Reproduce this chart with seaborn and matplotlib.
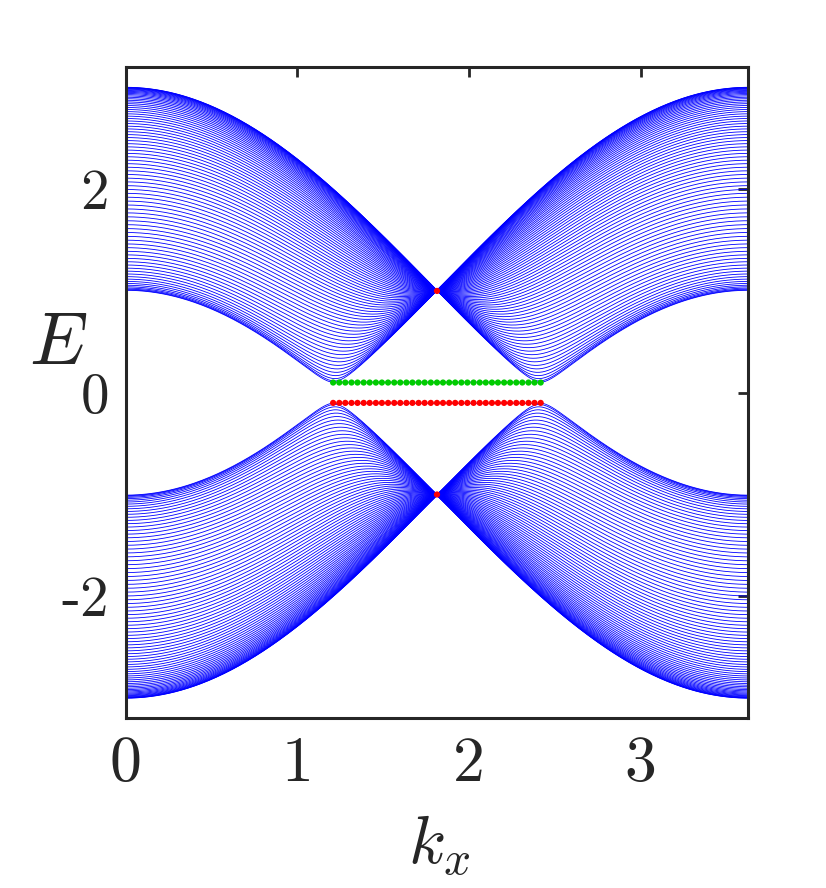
import numpy as np
import pandas as pd
import matplotlib
matplotlib.use("Agg")
import matplotlib.pyplot as plt
import seaborn as sns

# ---- parameters / values ----
hopping = 1.0          # nearest-neighbour hopping
mass = 0.1             # staggered sublattice potential (edge states sit at +-0.1)
n_chains = 80          # ribbon width (estimated from line density)
kx_max = 3.6276        # right end of the kx axis (2*pi/sqrt(3))
n_k = 400

x_ticks = [0, 1, 2, 3]
x_tick_labels = ["0", "1", "2", "3"]
y_ticks = [-2, 0, 2]
y_tick_labels = ["-2", "0", "2"]

edge_kx = [1.209, 1.245, 1.280, 1.316, 1.351, 1.387, 1.422, 1.458, 1.493,
           1.529, 1.565, 1.600, 1.636, 1.671, 1.707, 1.742, 1.778, 1.814,
           1.849, 1.885, 1.920, 1.956, 1.991, 2.027, 2.063, 2.098, 2.134,
           2.169, 2.205, 2.240, 2.276, 2.311, 2.347, 2.382, 2.418]
edge_E_upper = [0.1] * len(edge_kx)     # green dots
edge_E_lower = [-0.1] * len(edge_kx)    # red dots
touch_kx = [1.814, 1.814]
touch_E = [1.0, -1.0]                   # red dots where bands touch

# ---- zigzag ribbon tight-binding spectrum ----
kx = np.linspace(0, kx_max, n_k)
bands = np.empty((n_k, 2 * n_chains))
for i, k in enumerate(kx):
    g = 2 * hopping * np.cos(np.sqrt(3) * k / 2)
    H = np.zeros((2 * n_chains, 2 * n_chains))
    for j in range(n_chains):
        a, b = 2 * j, 2 * j + 1
        H[a, a] = mass
        H[b, b] = -mass
        H[a, b] = H[b, a] = g
        if j < n_chains - 1:
            H[b, a + 2] = H[a + 2, b] = hopping
    bands[i] = np.linalg.eigvalsh(H)

# hide the flat edge-state parts (drawn as dots instead)
for bidx in (n_chains - 1, n_chains):
    col = bands[:, bidx]
    col[np.abs(np.abs(col) - mass) < 2e-3] = np.nan

df = pd.DataFrame({
    "kx": np.repeat(kx, 2 * n_chains),
    "E": bands.ravel(),
    "band": np.tile(np.arange(2 * n_chains), n_k),
})

# ---- plotting ----
sns.set_theme(style="white")
plt.rcParams["mathtext.fontset"] = "cm"
plt.rcParams["axes.unicode_minus"] = False

fig = plt.figure(figsize=(8.26, 8.88), dpi=100)
ax = fig.add_axes([0.152, 0.191, 0.754, 0.7335])

sns.lineplot(data=df, x="kx", y="E", units="band", estimator=None,
             color="#0000ff", lw=0.6, sort=False, ax=ax, legend=False)

sns.scatterplot(x=edge_kx, y=edge_E_upper, color="#00cc00", s=20,
                edgecolor="none", ax=ax, zorder=5)
sns.scatterplot(x=edge_kx, y=edge_E_lower, color="#ff0000", s=20,
                edgecolor="none", ax=ax, zorder=5)
sns.scatterplot(x=touch_kx, y=touch_E, color="#ff0000", s=20,
                edgecolor="none", ax=ax, zorder=5)

ax.set_xlim(0, kx_max)
ax.set_ylim(-3.2, 3.2)

axis_col = "#262626"
ax.set_xticks(x_ticks)
ax.set_xticklabels(x_tick_labels, fontfamily="cmr10", fontsize=46, color=axis_col)
ax.set_yticks(y_ticks)
ax.set_yticklabels(y_tick_labels, fontfamily="cmr10", fontsize=41, color=axis_col)
ax.tick_params(axis="both", direction="in", length=7, width=2,
               color=axis_col, top=True, right=True)
ax.tick_params(axis="x", pad=13)
ax.tick_params(axis="y", pad=12)
for sp in ax.spines.values():
    sp.set_linewidth(2.2)
    sp.set_color(axis_col)
    sp.set_visible(True)

ax.set_xlabel("$k_x$", fontsize=49, color=axis_col, va="center", ha="center")
ax.set_ylabel("$E$", fontsize=53, color=axis_col, rotation=0, va="center", ha="center")
ax.xaxis.set_label_coords(0.503, -0.195)
ax.yaxis.set_label_coords(-0.109, 0.575)
ax.grid(False)

fig.savefig("out.png", dpi=100)
